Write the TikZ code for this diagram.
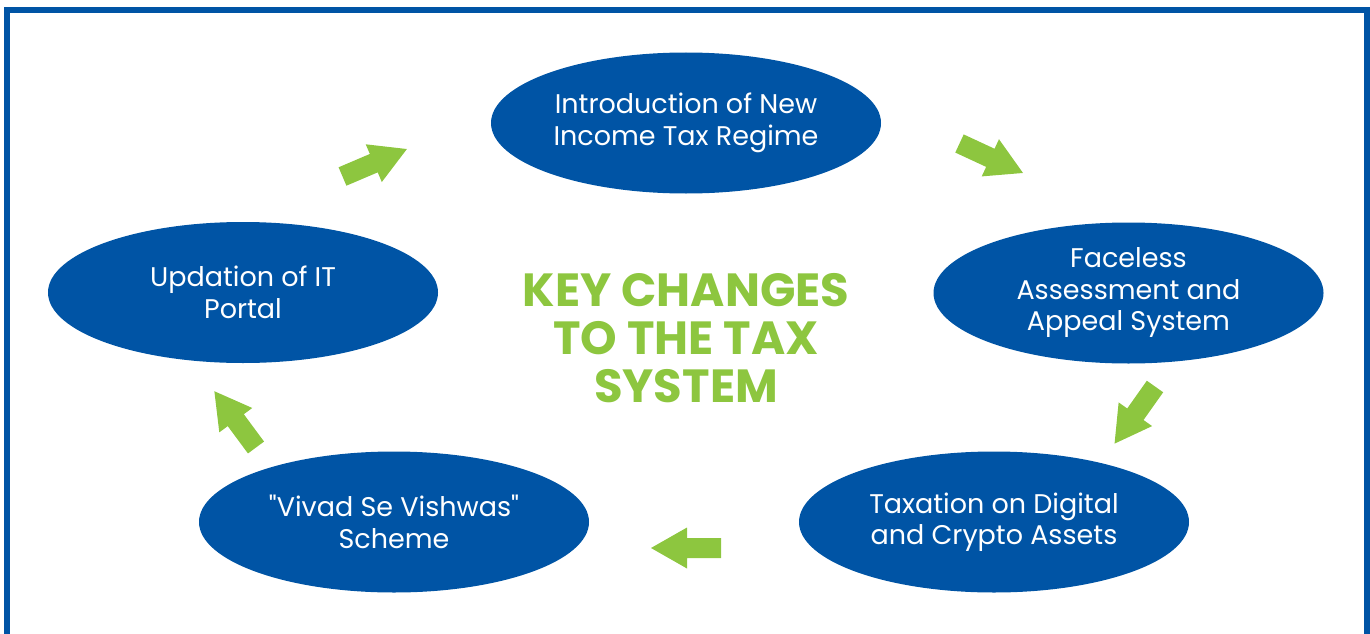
\documentclass[tikz,border=0pt]{standalone}
\usepackage{fontspec}
\setmainfont{Poppins}[Ligatures=TeXOff]
\usetikzlibrary{shapes.geometric}
\definecolor{deepblue}{RGB}{0,84,165}
\definecolor{leafgreen}{RGB}{141,198,63}
\tikzset{
  stage/.style={ellipse, fill=deepblue, text=white, align=center,
    minimum width=390pt, minimum height=141pt, inner sep=0pt,
    font=\fontsize{27}{31.5}\selectfont},
  headline/.style={text=leafgreen, align=center, inner sep=0pt,
    font=\bfseries\fontsize{46.5}{48}\selectfont},
  blockarrow/.pic={
    \fill[leafgreen] (0,-10) -- (34,-10) -- (34,-20.5) -- (70,0)
      -- (34,20.5) -- (34,10) -- (0,10) -- cycle;}
}
\begin{document}
\begin{tikzpicture}[x=1pt,y=-1pt]
  \useasboundingbox (0,0) rectangle (1370,634);
  % frame, open at the bottom
  \draw[deepblue, line width=6pt] (7,10) rectangle (1366.5,700);

  % the five reforms
  \node[stage] (regime)   at (686,123)    {Introduction of New\\Income Tax Regime};
  \node[stage] (faceless) at (1128.5,293) {Faceless\\Assessment and\\Appeal System};
  \node[stage] (crypto)   at (994,522)    {Taxation on Digital\\and Crypto Assets};
  \node[stage] (vivad)    at (394,522)    {"Vivad Se Vishwas"\\Scheme};
  \node[stage] (portal)   at (243,292.5)  {Updation of IT\\Portal};

  % centre title
  \node[headline] (title) at (686,338) {KEY CHANGES\\TO THE TAX\\SYSTEM};

  % cycle arrows
  \pic[rotate=23.1]  at (342.5,176.5) {blockarrow};
  \pic[rotate=-24.9] at (959.5,143.5) {blockarrow};
  \pic[rotate=234.7] at (1155,386.5)  {blockarrow};
  \pic[rotate=180]   at (721,548)     {blockarrow};
  \pic[rotate=126.5] at (256,447.5)   {blockarrow};
\end{tikzpicture}
\end{document}
